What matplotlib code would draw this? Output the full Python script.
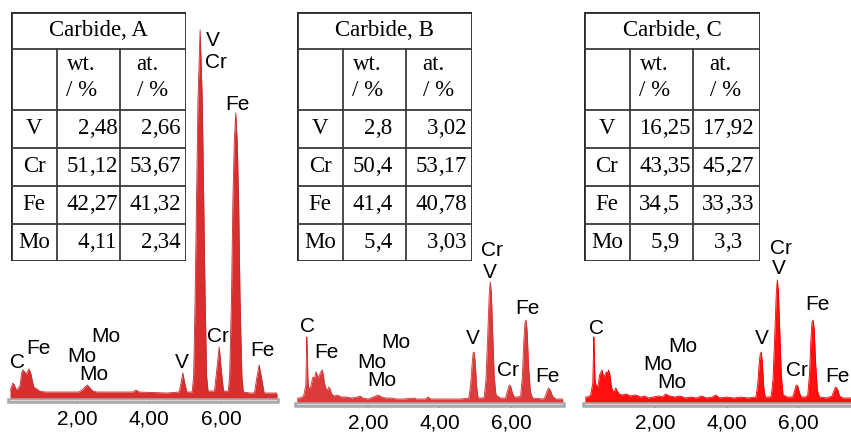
import matplotlib
matplotlib.use("Agg")
import matplotlib.pyplot as plt

# EDS spectra of three carbides, counts in arbitrary units
energy_a = [0.14, 0.18, 0.22, 0.26, 0.30, 0.36, 0.42, 0.46, 0.50, 0.55, 0.59, 0.63, 0.67, 0.72,
            0.76, 0.80, 0.88, 0.96, 1.10, 1.50, 2.05, 2.14, 2.22, 2.29, 2.36, 2.44, 2.55, 3.00,
            3.55, 3.64, 3.72, 4.50, 4.84, 4.89, 4.94, 4.99, 5.05, 5.15, 5.20, 5.24, 5.28, 5.32,
            5.36, 5.42, 5.48, 5.52, 5.56, 5.60, 5.64, 5.75, 5.82, 5.88, 5.95, 6.01, 6.07, 6.15,
            6.20, 6.24, 6.29, 6.33, 6.37, 6.41, 6.45, 6.49, 6.53, 6.58, 6.62, 6.80, 6.93, 6.99,
            7.06, 7.13, 7.20, 7.35, 7.56]
counts_a = [10, 14, 18, 16, 12, 12, 16, 28, 31, 29, 26, 30, 32, 27,
            20, 14, 12, 10, 9, 9, 9, 11, 14, 16, 13, 10, 9, 9,
            9, 11, 9, 8, 9, 18, 28, 18, 9, 9, 9, 25, 100, 200,
            300, 371, 300, 200, 100, 25, 10, 10, 10, 30, 54, 30, 10, 10,
            9, 25, 100, 200, 260, 288, 260, 200, 100, 25, 9, 8, 8, 22,
            36, 22, 8, 8, 8]

energy_b = [0.01, 0.10, 0.20, 0.26, 0.28, 0.29, 0.30, 0.32, 0.34, 0.38, 0.42, 0.46, 0.50, 0.54,
            0.57, 0.60, 0.64, 0.68, 0.72, 0.75, 0.78, 0.82, 0.86, 0.90, 0.94, 0.98, 1.05, 1.15,
            1.25, 1.40, 1.55, 1.70, 1.78, 1.85, 2.00, 2.15, 2.28, 2.38, 2.50, 2.65, 2.80, 3.00,
            3.30, 3.35, 3.60, 3.68, 3.75, 4.20, 4.60, 4.82, 4.87, 4.91, 4.94, 4.97, 5.00, 5.04,
            5.08, 5.20, 5.25, 5.30, 5.35, 5.39, 5.42, 5.45, 5.49, 5.53, 5.58, 5.70, 5.85, 5.90,
            5.95, 5.99, 6.04, 6.09, 6.20, 6.27, 6.32, 6.36, 6.39, 6.42, 6.45, 6.49, 6.54, 6.60,
            6.90, 6.95, 7.00, 7.05, 7.10, 7.16, 7.25, 7.45]
counts_b = [7, 7, 9, 20, 55, 68, 55, 25, 18, 15, 22, 28, 26, 33,
            31, 27, 30, 33, 35, 30, 22, 17, 14, 18, 16, 11, 9, 10,
            8, 8, 7, 8, 9, 7, 6, 8, 10, 8, 7, 7, 6, 6,
            7, 6, 6, 8, 6, 6, 6, 7, 20, 40, 52, 53, 42, 18,
            7, 7, 8, 25, 70, 110, 123, 112, 70, 28, 10, 7, 7, 14,
            20, 19, 12, 8, 8, 9, 30, 65, 82, 85, 75, 40, 14, 7,
            6, 8, 13, 17, 15, 9, 6, 6]

energy_c = [0.04, 0.12, 0.20, 0.26, 0.28, 0.29, 0.30, 0.32, 0.35, 0.40, 0.45, 0.49, 0.52, 0.56,
            0.60, 0.64, 0.67, 0.70, 0.74, 0.78, 0.82, 0.86, 0.90, 0.94, 1.00, 1.08, 1.20, 1.30,
            1.45, 1.60, 1.72, 1.80, 1.95, 2.10, 2.20, 2.30, 2.40, 2.55, 2.70, 2.85, 3.00, 3.15,
            3.30, 3.45, 3.60, 3.70, 3.80, 4.00, 4.20, 4.40, 4.60, 4.82, 4.87, 4.91, 4.94, 4.97,
            5.00, 5.04, 5.08, 5.20, 5.25, 5.30, 5.35, 5.39, 5.42, 5.45, 5.49, 5.53, 5.58, 5.70,
            5.85, 5.90, 5.95, 5.99, 6.04, 6.09, 6.20, 6.27, 6.32, 6.36, 6.39, 6.42, 6.45, 6.49,
            6.54, 6.60, 6.80, 6.95, 7.00, 7.05, 7.10, 7.16, 7.25, 7.48]
counts_c = [8, 8, 10, 22, 56, 68, 56, 26, 20, 18, 30, 33, 35, 28,
            30, 33, 31, 35, 30, 18, 14, 13, 17, 14, 11, 10, 11, 9,
            10, 8, 9, 7, 8, 9, 8, 11, 9, 8, 9, 7, 8, 7,
            9, 7, 8, 10, 7, 8, 7, 8, 7, 8, 20, 40, 51, 53, 43, 18,
            8, 8, 9, 26, 72, 112, 125, 113, 72, 30, 10, 8,
            8, 14, 20, 19, 12, 8, 8, 10, 31, 66, 83, 85, 76, 42,
            14, 8, 7, 9, 14, 18, 16, 9, 7, 7]

tick_values = [2, 4, 6]
tick_labels = ["2,00", "4,00", "6,00"]

elements = ["V", "Cr", "Fe", "Mo"]
titles = ["Carbide, A", "Carbide, B", "Carbide, C"]
wt_a = ["2,48", "51,12", "42,27", "4,11"]
at_a = ["2,66", "53,67", "41,32", "2,34"]
wt_b = ["2,8", "50,4", "41,4", "5,4"]
at_b = ["3,02", "53,17", "40,78", "3,03"]
wt_c = ["16,25", "43,35", "34,5", "5,9"]
at_c = ["17,92", "45,27", "33,33", "3,3"]

# peak labels (text, energy, counts)
labels_a = [("V", 5.78, 361), ("Cr", 5.86, 338), ("Fe", 6.47, 296), ("Cr", 5.92, 64),
            ("Fe", 7.14, 51), ("V", 4.92, 39), ("C", 0.36, 38), ("Fe", 0.92, 53),
            ("Mo", 2.14, 45), ("Mo", 2.81, 64), ("Mo", 2.47, 26)]
labels_b = [("Cr", 5.47, 155), ("V", 5.41, 133), ("Fe", 6.45, 96), ("V", 4.94, 67),
            ("Cr", 5.92, 35), ("Fe", 7.01, 29), ("C", 0.32, 78), ("Fe", 0.85, 52),
            ("Mo", 2.11, 42), ("Mo", 2.78, 63), ("Mo", 2.39, 24)]
labels_c = [("Cr", 5.52, 156), ("V", 5.47, 136), ("Fe", 6.53, 100), ("V", 4.99, 66),
            ("Cr", 5.97, 34), ("Fe", 7.09, 28), ("C", 0.35, 77),
            ("Mo", 2.08, 40), ("Mo", 2.78, 58), ("Mo", 2.48, 22)]

W, H = 851, 432
fig = plt.figure(figsize=(W / 100, H / 100), dpi=100)
fig.patch.set_facecolor("white")


def px_box(left, top, right, bottom):
    return [left / W, 1 - bottom / H, (right - left) / W, (bottom - top) / H]


def draw_spectrum(box, xlim, ytop, energy, counts, color, edge, labels):
    ax = fig.add_axes(px_box(*box))
    ax.fill_between(energy, 0, counts, color=color, lw=0, zorder=1)
    ax.plot(energy, counts, color=edge, lw=0.6, zorder=1.5)
    ax.set_xlim(*xlim)
    ax.set_ylim(0, ytop)
    for side in ["left", "right", "top"]:
        ax.spines[side].set_visible(False)
    ax.spines["bottom"].set_color("#a9a9a9")
    ax.spines["bottom"].set_linewidth(4)
    ax.axhline(0, color="#dedede", lw=1.3, zorder=3)
    ax.set_yticks([])
    ax.set_xticks(tick_values)
    ax.set_xticklabels(tick_labels, fontsize=15, family="Liberation Sans")
    ax.tick_params(axis="x", direction="inout", length=4, width=1.2, color="#555555", pad=4)
    ax.patch.set_alpha(0)
    for txt, e, c in labels:
        ax.text(e, c, txt, ha="center", va="center", fontsize=15,
                family="Liberation Sans", zorder=4)
    return ax


def draw_table(left, top, width, title, wt, at):
    height = 249
    ax = fig.add_axes(px_box(left, top, left + width, top + height))
    ax.set_xlim(0, width)
    ax.set_ylim(height, 0)
    ax.axis("off")
    ax.add_patch(plt.Rectangle((0, 0), width, height, facecolor="white",
                               edgecolor="#2a2a2a", lw=2, zorder=2))
    cols = [0, 46, 109, width]
    rows = [0, 37, 98, 136, 174, 212, height]
    for r in rows[1:-1]:
        ax.plot([0, width], [r, r], color="#3a3a3a", lw=1.3, zorder=3)
    for c in cols[1:-1]:
        ax.plot([c, c], [rows[1], height], color="#3a3a3a", lw=1.3, zorder=3)
    font = dict(family="Liberation Serif", fontsize=16.5, va="center", zorder=4)
    ax.text(width / 2, 18, title, ha="center", **font)
    ax.text(cols[1] + 10, 53, "wt.", ha="left", **font)
    ax.text(cols[1] + 9, 78, "/ %", ha="left", **font)
    ax.text(cols[2] + 16, 53, "at.", ha="left", **font)
    ax.text(cols[2] + 17, 78, "/ %", ha="left", **font)
    for i, el in enumerate(elements):
        yc = (rows[i + 2] + rows[i + 3]) / 2
        ax.text(cols[0] + 23, yc, el, ha="center", **font)
        for col, val in ((1, wt[i]), (2, at[i])):
            whole, frac = val.split(",")
            xc = cols[col] + 32
            ax.text(xc, yc, whole, ha="right", **font)
            ax.text(xc, yc, "," + frac, ha="left", **font)


draw_spectrum((10, 10, 277, 401), (0.139, 7.556), 391, energy_a, counts_a,
              "#d92e2e", "#c42a30", labels_a)
draw_spectrum((297, 10, 563, 405), (0.014, 7.455), 395, energy_b, counts_b,
              "#dc3b3b", "#d23030", labels_b)
draw_spectrum((585, 10, 851, 405), (0.042, 7.48), 395, energy_c, counts_c,
              "#ff1010", "#f00000", labels_c)

draw_table(11, 12, 175, titles[0], wt_a, at_a)
draw_table(297, 12, 175, titles[1], wt_b, at_b)
draw_table(584, 12, 176, titles[2], wt_c, at_c)

fig.savefig("out.png", dpi=100)
